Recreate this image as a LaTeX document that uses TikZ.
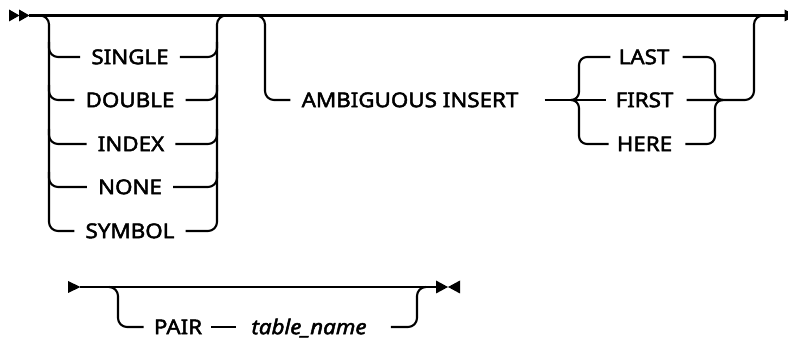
\documentclass[tikz,border=0pt]{standalone}
\usepackage{fontspec}
\setmainfont{Noto Sans}[FakeStretch=1.09,FakeBold=2.2]
\begin{document}
\begin{tikzpicture}[x=1pt,y=-1pt,
  rail/.style={line width=2.1pt, rounded corners=9pt},
  brace/.style={line width=2.1pt, rounded corners=8pt},
  kw/.style={font=\fontsize{20.5}{24}\selectfont, inner sep=0pt, text height=14.4pt, text depth=0pt},
  var/.style={kw, font=\fontsize{20.5}{24}\selectfont\itshape}]
\useasboundingbox (0,0) rectangle (788,339);
\clip (0,0) rectangle (788,339);
% keyword nodes
\node[kw] (single) at (130,57) {SINGLE};
\node[kw] (double) at (130,100) {DOUBLE};
\node[kw] (index) at (131,144) {INDEX};
\node[kw] (none) at (130,187) {NONE};
\node[kw] (symbol) at (130,231) {SYMBOL};
\node[kw] (amb) at (410,100) {AMBIGUOUS INSERT};
\node[kw] (last) at (644,57) {LAST};
\node[kw] (first) at (644.5,100) {FIRST};
\node[kw] (here) at (644.5,144) {HERE};
\node[kw] (pair) at (178,327) {PAIR};
\node[var] (tname) at (309,327) {table\_name};
% coordinates on the main lines
\coordinate (s0) at (29,15.5);
\coordinate (e0) at (785,15.5);
\coordinate (g1in) at (38,15.5);
\coordinate (g1out) at (228,15.5);
\coordinate (g2in) at (254,15.5);
\coordinate (g2out) at (765,15.5);
\coordinate (s1) at (80,287);
\coordinate (e1) at (436,287);
% main line
\draw[rail] (s0) -- (e0);
% group 1
\draw[rail] (g1in) -| (49,231) -- ([xshift=-11pt]symbol.west);
\draw[rail] (49,42) |- ([xshift=-11pt]single.west);
\draw[rail] (49,85) |- ([xshift=-11pt]double.west);
\draw[rail] (49,129) |- ([xshift=-11pt]index.west);
\draw[rail] (49,172) |- ([xshift=-11pt]none.west);
\draw[rail] ([xshift=11pt]symbol.east) -| (217,15.5) -- (g1out);
\draw[rail] ([xshift=11pt]single.east) -| (217,42);
\draw[rail] ([xshift=11pt]double.east) -| (217,85);
\draw[rail] ([xshift=11pt]index.east) -| (217,129);
\draw[rail] ([xshift=11pt]none.east) -| (217,172);
% group 2
\draw[rail] (g2in) -| (265,100) -- ([xshift=-11pt]amb.west);
\draw[rail] ([xshift=26pt]amb.east) -- ([xshift=-9pt]first.west);
\draw[brace] (571,100) -| (579,57) -- ([xshift=-8pt]last.west);
\draw[brace] (571,100) -| (579,144) -- ([xshift=-8pt]here.west);
\draw[brace] ([xshift=13pt]last.east) -| (715,100) -- (723,100);
\draw[brace] ([xshift=13pt]here.east) -| (715,100) -- (723,100);
\draw[rail] ([xshift=13pt]first.east) -| (754,15.5) -- (g2out);
% bottom line
\draw[rail] (s1) -- (e1);
\draw[rail] (109,287) -| (118,327) -- ([xshift=-10pt]pair.west);
\draw[rail] ([xshift=9pt]pair.east) -- ([xshift=-15pt]tname.west);
\draw[rail] ([xshift=24pt]tname.east) -| (417,287) -- (426,287);
% arrow heads
\fill (9,9.5) -- (19.5,15.5) -- (9,21.5) -- cycle;
\fill (19,9.5) -- (29.5,15.5) -- (19,21.5) -- cycle;
\fill (784.5,9.5) -- (796,15.5) -- (784.5,21.5) -- cycle;
\fill (68,281) -- (80.5,287) -- (68,293) -- cycle;
\fill (436,280.5) -- (448,287) -- (436,293.5) -- cycle;
\fill (460,280.5) -- (448,287) -- (460,293.5) -- cycle;
\end{tikzpicture}
\end{document}
